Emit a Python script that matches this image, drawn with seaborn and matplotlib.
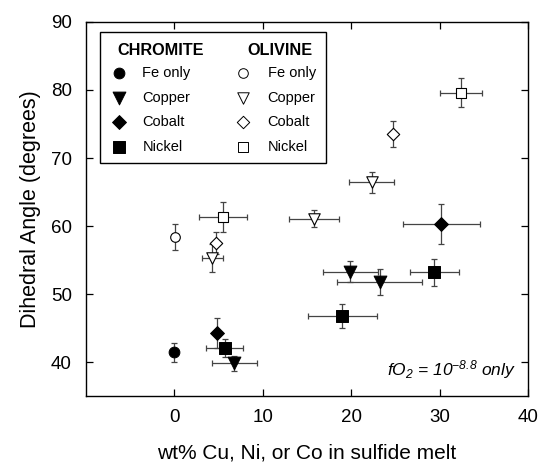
import matplotlib
matplotlib.use("Agg")
import matplotlib.pyplot as plt
from matplotlib.patches import Rectangle
import seaborn as sns
import pandas as pd

# Chromite (filled symbols)
chr_fe_x = [0.0];               chr_fe_y = [41.4];               chr_fe_xerr = [0.0];             chr_fe_yerr = [1.4]
chr_cu_x = [6.8, 19.9, 23.2];   chr_cu_y = [39.8, 53.3, 51.8];   chr_cu_xerr = [2.5, 3.1, 4.8];   chr_cu_yerr = [1.1, 1.5, 1.9]
chr_co_x = [4.8, 30.2];         chr_co_y = [44.2, 60.3];         chr_co_xerr = [0.0, 4.4];        chr_co_yerr = [2.2, 3.0]
chr_ni_x = [5.7, 19.0, 29.4];   chr_ni_y = [42.1, 46.8, 53.2];   chr_ni_xerr = [2.1, 3.9, 2.8];   chr_ni_yerr = [1.3, 1.8, 2.0]

# Olivine (open symbols)
oli_fe_x = [0.1];               oli_fe_y = [58.4];               oli_fe_xerr = [0.0];             oli_fe_yerr = [1.9]
oli_cu_x = [4.3, 15.8, 22.3];   oli_cu_y = [55.3, 61.1, 66.4];   oli_cu_xerr = [1.2, 2.8, 2.5];   oli_cu_yerr = [2.0, 1.3, 1.6]
oli_co_x = [4.7, 24.7];         oli_co_y = [57.5, 73.5];         oli_co_xerr = [0.0, 0.0];        oli_co_yerr = [1.6, 1.9]
oli_ni_x = [5.5, 32.4];         oli_ni_y = [61.3, 79.6];         oli_ni_xerr = [2.7, 2.4];        oli_ni_yerr = [2.2, 2.1]

metal_labels = ["Fe only", "Copper", "Cobalt", "Nickel"]
x_ticks = [0, 10, 20, 30, 40]
y_ticks = [40, 50, 60, 70, 80, 90]

sns.set_style("ticks")
plt.rcParams["font.family"] = ["Liberation Sans", "DejaVu Sans"]
plt.rcParams["mathtext.fontset"] = "custom"
plt.rcParams["mathtext.rm"] = "Liberation Sans:italic"
plt.rcParams["mathtext.it"] = "Liberation Sans:italic"
for key in ["text.color", "axes.labelcolor", "xtick.color", "ytick.color", "axes.edgecolor"]:
    plt.rcParams[key] = "black"

fig = plt.figure(figsize=(5.4, 4.71), dpi=100)
ax = fig.add_axes([0.159, 0.1592, 0.819, 0.7941])

markers = {"Fe only": "o", "Copper": "v", "Cobalt": "D", "Nickel": "s"}
sizes = {"Fe only": 60, "Copper": 85, "Cobalt": 50, "Nickel": 78}

series = [
    ("Chromite", "Fe only", chr_fe_x, chr_fe_y, chr_fe_xerr, chr_fe_yerr),
    ("Chromite", "Copper", chr_cu_x, chr_cu_y, chr_cu_xerr, chr_cu_yerr),
    ("Chromite", "Cobalt", chr_co_x, chr_co_y, chr_co_xerr, chr_co_yerr),
    ("Chromite", "Nickel", chr_ni_x, chr_ni_y, chr_ni_xerr, chr_ni_yerr),
    ("Olivine", "Fe only", oli_fe_x, oli_fe_y, oli_fe_xerr, oli_fe_yerr),
    ("Olivine", "Copper", oli_cu_x, oli_cu_y, oli_cu_xerr, oli_cu_yerr),
    ("Olivine", "Cobalt", oli_co_x, oli_co_y, oli_co_xerr, oli_co_yerr),
    ("Olivine", "Nickel", oli_ni_x, oli_ni_y, oli_ni_xerr, oli_ni_yerr),
]

for mineral, metal, xs, ys, xe, ye in series:
    df = pd.DataFrame({"x": xs, "y": ys})
    ax.errorbar(xs, ys, xerr=xe, yerr=ye, fmt="none", ecolor="#444444",
                elinewidth=0.9, capsize=2.5, capthick=0.9, zorder=2)
    filled = mineral == "Chromite"
    sns.scatterplot(data=df, x="x", y="y", ax=ax, marker=markers[metal],
                    s=sizes[metal] if filled else sizes[metal] * 0.8,
                    color="black" if filled else "white",
                    edgecolor="black", linewidth=0.7 if filled else 0.8,
                    zorder=3, legend=False)

ax.set_xlim(-10, 40)
ax.set_ylim(35, 90)
ax.set_xticks(x_ticks)
ax.set_yticks(y_ticks)
ax.tick_params(direction="in", length=5, width=0.9, labelsize=13.5,
               top=True, right=True, colors="black")
ax.tick_params(axis="x", pad=9)
ax.tick_params(axis="y", pad=10)
for sp in ax.spines.values():
    sp.set_linewidth(1.0)
    sp.set_color("black")
    sp.set_visible(True)
ax.set_xlabel("wt% Cu, Ni, or Co in sulfide melt", fontsize=15, labelpad=13)
ax.set_ylabel("Dihedral Angle (degrees)", fontsize=15.5, labelpad=7)

# Two-column key drawn in axes coordinates
ta = ax.transAxes
ax.add_patch(Rectangle((0.0315, 0.623), 0.511, 0.35, transform=ta,
                       facecolor="white", edgecolor="black", linewidth=1.0, zorder=5))
ax.text(0.072, 0.925, "CHROMITE", transform=ta, fontsize=11.7, fontweight="bold",
        va="center", ha="left", zorder=6)
ax.text(0.366, 0.925, "OLIVINE", transform=ta, fontsize=11.7, fontweight="bold",
        va="center", ha="left", zorder=6)
rows_y = [0.864, 0.797, 0.733, 0.666]
for metal, ry in zip(metal_labels, rows_y):
    ax.scatter([0.074], [ry], transform=ta, marker=markers[metal], s=sizes[metal],
               color="black", edgecolor="black", linewidth=0.7, zorder=6)
    ax.text(0.128, ry, metal, transform=ta, fontsize=10.5, va="center", ha="left", zorder=6)
    ax.scatter([0.355], [ry], transform=ta, marker=markers[metal], s=sizes[metal] * 0.8,
               color="white", edgecolor="black", linewidth=0.7, zorder=6)
    ax.text(0.411, ry, metal, transform=ta, fontsize=10.5, va="center", ha="left", zorder=6)

ax.text(0.973, 0.04, r"$fO_2$ = 10$^{-8.8}$ only", transform=ta, fontsize=12.5,
        style="italic", ha="right", va="bottom")

fig.savefig("out.png", dpi=100)
